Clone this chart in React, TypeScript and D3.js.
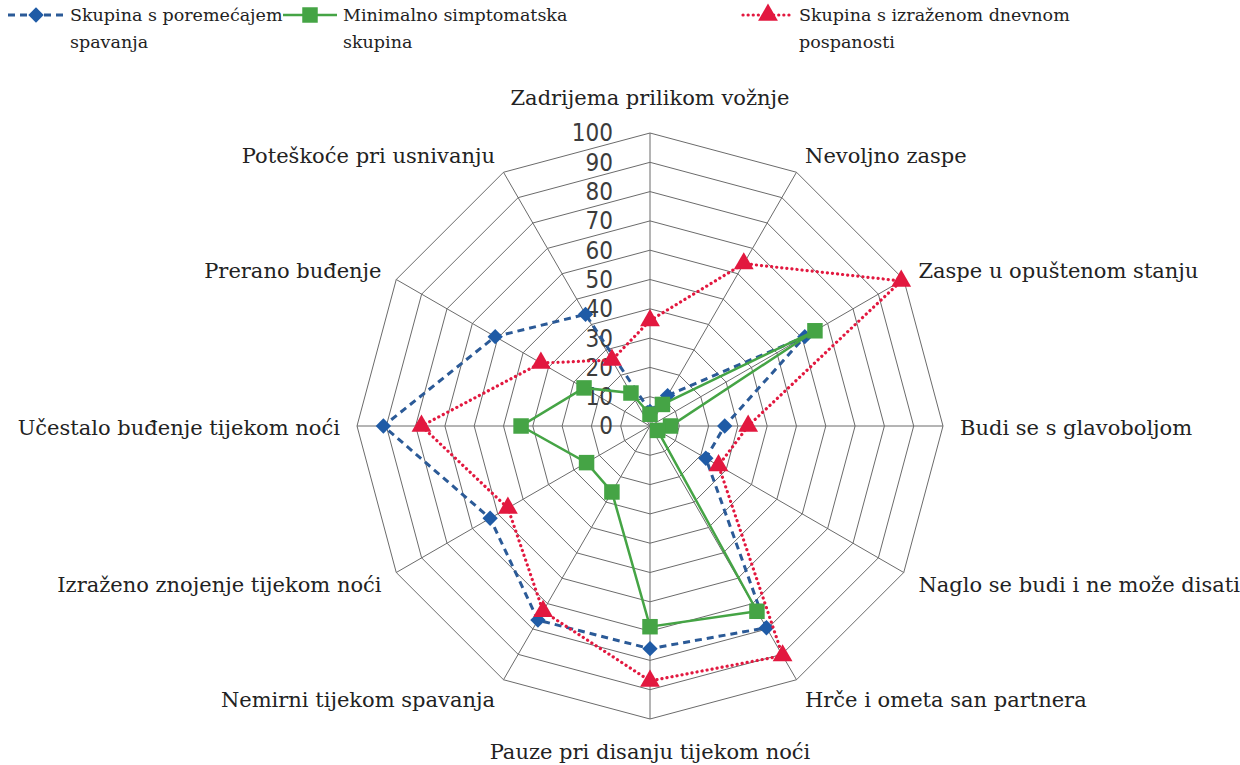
import * as d3 from "d3";

// axis labels, clockwise from the top
const categories = [
  "Zadrijema prilikom vožnje",
  "Nevoljno zaspe",
  "Zaspe u opuštenom stanju",
  "Budi se s glavoboljom",
  "Naglo se budi i ne može disati",
  "Hrče i ometa san partnera",
  "Pauze pri disanju tijekom noći",
  "Nemirni tijekom spavanja",
  "Izraženo znojenje tijekom noći",
  "Učestalo buđenje tijekom noći",
  "Prerano buđenje",
  "Poteškoće pri usnivanju",
];

const poremecaj = [5, 12, 61, 25.5, 22, 79.5, 76, 76.5, 63, 91, 61, 44];
const minimalno = [4, 8.5, 65, 7, 3, 73, 68.5, 26, 25, 44, 26, 13];
const pospanost = [36, 64, 99, 33.5, 27, 90.5, 87, 73, 56, 78, 43, 26];

const ticks = [0, 10, 20, 30, 40, 50, 60, 70, 80, 90, 100];

const legendLines = [
  ["Skupina s poremećajem", "spavanja"],
  ["Minimalno simptomatska", "skupina"],
  ["Skupina s izraženom dnevnom", "pospanosti"],
];

const BLUE = "#1f5ba6";
const BLUE_LINE = "#2b5a97";
const GREEN = "#45a445";
const RED = "#e2183f";

const width = 1240;
const height = 765;
const cx = 650;
const cy = 426;
const R = 293;

const serif = "'DejaVu Serif', serif";

const diamondType = (d3 as any).symbolDiamond2 || d3.symbolDiamond;

export default function App() {
  const n = categories.length;
  const r = d3.scaleLinear().domain([0, 100]).range([0, R]);
  const angle = (i: number) => (i * 2 * Math.PI) / n;
  const pt = (i: number, rad: number): [number, number] => [
    Math.sin(angle(i)) * rad,
    -Math.cos(angle(i)) * rad,
  ];

  const radial = d3
    .lineRadial<number>()
    .angle((_, i) => angle(i))
    .radius((d) => r(d))
    .curve(d3.curveLinearClosed);

  const ring = (v: number) =>
    d3.range(n).map((i) => pt(i, r(v)).join(",")).join(" ");

  const diamond = d3.symbol().type(diamondType).size(150)()!;
  const square = d3.symbol().type(d3.symbolSquare).size(240)()!;
  const triangle = d3.symbol().type(d3.symbolTriangle).size(170)()!;

  const series = [
    { values: poremecaj, stroke: BLUE_LINE, fill: BLUE, dash: "7,5", w: 3, mark: diamond, cap: "butt" },
    { values: minimalno, stroke: GREEN, fill: GREEN, dash: "none", w: 2.5, mark: square, cap: "butt" },
    { values: pospanost, stroke: RED, fill: RED, dash: "0.1,5", w: 3.2, mark: triangle, cap: "round" },
  ];

  const legendX = [8, 283, 743];
  const legendW = [56, 54, 50];

  return (
    <svg
      width={width}
      height={height}
      style={{ position: "absolute", left: 0, top: 0, background: "#fff" }}
    >
      {/* legend */}
      {series.map((s, k) => (
        <g key={k} transform={`translate(${legendX[k]},15)`}>
          <line
            x1={0}
            x2={legendW[k]}
            y1={0}
            y2={0}
            stroke={s.stroke}
            strokeWidth={s.w}
            strokeDasharray={s.dash}
            strokeLinecap={s.cap as any}
          />
          <path d={s.mark} transform={`translate(${legendW[k] / 2},0)`} fill={s.fill} />
          <text fontFamily={serif} fontSize={17.5} fill="#222">
            <tspan x={legendW[k] + 6} y={0} dy="0.35em">{legendLines[k][0]}</tspan>
            <tspan x={legendW[k] + 6} dy="1.55em">{legendLines[k][1]}</tspan>
          </text>
        </g>
      ))}

      <g transform={`translate(${cx},${cy})`}>
        {/* grid */}
        {ticks.slice(1).map((t) => (
          <polygon key={t} points={ring(t)} fill="none" stroke="#6b6b6b" strokeWidth={1} />
        ))}
        {categories.map((_, i) => {
          const [x, y] = pt(i, R);
          return <line key={i} x1={0} y1={0} x2={x} y2={y} stroke="#6b6b6b" strokeWidth={1} />;
        })}

        {/* tick labels */}
        {ticks.map((t) => (
          <text
            key={t}
            x={-37}
            y={-r(t)}
            dy="0.35em"
            textAnchor="end"
            fontFamily="'DejaVu Sans Condensed', 'DejaVu Sans', sans-serif"
            fontStretch="condensed"
            fontSize={24}
            fill="#3c3c3c"
          >
            {t}
          </text>
        ))}

        {/* category labels */}
        {categories.map((c, i) => {
          const sx = Math.sin(angle(i));
          const cy2 = -Math.cos(angle(i));
          const vertical = Math.abs(sx) < 0.01;
          const [x, y] = pt(i, R + 17 + (vertical ? 17 : 0));
          const anchor = vertical ? "middle" : sx > 0 ? "start" : "end";
          return (
            <text
              key={c}
              x={x}
              y={y + (vertical ? -1 : cy2 * 4 + 2)}
              dy="0.35em"
              textAnchor={anchor}
              fontFamily={serif}
              fontSize={21}
              fill="#222"
            >
              {c}
            </text>
          );
        })}

        {/* series */}
        {series.map((s, k) => (
          <g key={k}>
            <path
              d={radial(s.values)!}
              fill="none"
              stroke={s.stroke}
              strokeWidth={s.w}
              strokeDasharray={s.dash}
              strokeLinecap={s.cap as any}
            />
            {s.values.map((v, i) => {
              const [x, y] = pt(i, r(v));
              return <path key={i} d={s.mark} transform={`translate(${x},${y})`} fill={s.fill} />;
            })}
          </g>
        ))}
      </g>
    </svg>
  );
}
